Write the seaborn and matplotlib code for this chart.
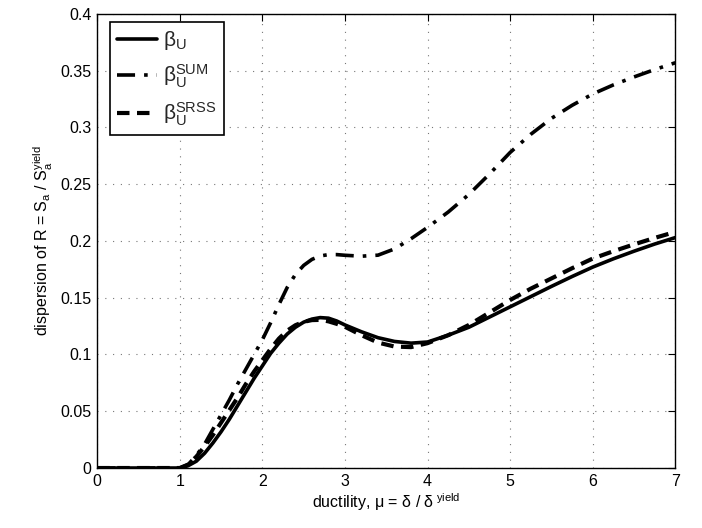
import matplotlib
matplotlib.use("Agg")
import matplotlib.pyplot as plt
import seaborn as sns
import pandas as pd

sns.set_theme(style="white")
plt.rcParams['font.family'] = ['Liberation Sans', 'DejaVu Sans']
plt.rcParams['mathtext.fontset'] = 'custom'
plt.rcParams['mathtext.rm'] = 'Liberation Sans'
plt.rcParams['mathtext.it'] = 'Liberation Sans'
plt.rcParams['mathtext.bf'] = 'Liberation Sans:bold'

mu = [0, 0.5, 1.0, 1.1, 1.2, 1.3, 1.4, 1.5, 1.6, 1.7, 1.8, 1.9, 2.0, 2.1, 2.2, 2.3,
      2.4, 2.5, 2.6, 2.7, 2.8, 2.9, 3.0, 3.2, 3.4, 3.6, 3.8, 4.0, 4.25, 4.5, 4.75,
      5.0, 5.25, 5.5, 5.75, 6.0, 6.25, 6.5, 6.75, 7.0]
beta_u = [0, 0, 0, 0.002, 0.006, 0.013, 0.022, 0.032, 0.043, 0.055, 0.067, 0.079,
          0.090, 0.101, 0.110, 0.118, 0.124, 0.1285, 0.1312, 0.1325, 0.132, 0.1295,
          0.126, 0.120, 0.1148, 0.1115, 0.110, 0.111, 0.117, 0.124, 0.133, 0.142,
          0.151, 0.160, 0.1687, 0.177, 0.1843, 0.191, 0.1973, 0.203]
beta_sum = [0, 0, 0, 0.003, 0.011, 0.021, 0.034, 0.047, 0.060, 0.074, 0.087, 0.100,
            0.113, 0.128, 0.144, 0.159, 0.1705, 0.1785, 0.1838, 0.1868, 0.188, 0.188,
            0.1874, 0.1866, 0.1875, 0.193, 0.202, 0.212, 0.2255, 0.241, 0.259,
            0.278, 0.294, 0.308, 0.3195, 0.3295, 0.3375, 0.3445, 0.351, 0.357]
beta_srss = [0, 0, 0, 0.003, 0.010, 0.019, 0.029, 0.040, 0.051, 0.062, 0.074, 0.085,
             0.095, 0.105, 0.114, 0.121, 0.1258, 0.1288, 0.1303, 0.1305, 0.1292, 0.127,
             0.1244, 0.117, 0.1105, 0.107, 0.1065, 0.110, 0.117, 0.126, 0.137,
             0.148, 0.158, 0.167, 0.176, 0.1845, 0.191, 0.197, 0.2027, 0.208]

labels = [r'$\mathregular{\beta_U}$', r'$\mathregular{\beta_U^{SUM}}$',
          r'$\mathregular{\beta_U^{SRSS}}$']

fig = plt.figure(figsize=(7.02, 5.28), dpi=100)
ax = fig.add_axes([0.1385, 0.1136, 0.8235, 0.86])

df = pd.DataFrame({'mu': mu, 'u': beta_u, 'sum': beta_sum, 'srss': beta_srss})
sns.lineplot(data=df, x='mu', y='u', ax=ax, color='black', lw=2.6,
             linestyle='-', label=labels[0])
sns.lineplot(data=df, x='mu', y='sum', ax=ax, color='black', lw=2.6,
             linestyle=(0, (5, 2.5, 1, 2.5)), label=labels[1])
sns.lineplot(data=df, x='mu', y='srss', ax=ax, color='black', lw=3,
             linestyle=(0, (3, 1.8)), label=labels[2])

ax.set_xlim(0, 7)
ax.set_ylim(0, 0.4)
ax.set_xticks(range(0, 8))
yt = [0, 0.05, 0.1, 0.15, 0.2, 0.25, 0.3, 0.35, 0.4]
ax.set_yticks(yt)
ax.set_yticklabels(['0', '0.05', '0.1', '0.15', '0.2', '0.25', '0.3', '0.35', '0.4'])
ax.tick_params(direction='in', top=True, right=True, length=5, width=0.8,
               labelsize=11.5, colors='black', pad=4)
ax.grid(True, linestyle=(0, (1, 6)), color='#777777', lw=0.8)
for s in ax.spines.values():
    s.set_color('black')
    s.set_linewidth(1.0)

ax.set_xlabel(r'ductility, $\mathregular{\mu}$ = $\mathregular{\delta}$ / $\mathregular{\delta^{\ yield}}$',
              fontsize=11.5, color='black', labelpad=2)
ax.set_ylabel(r'dispersion of R = $\mathregular{S_a}$ / $\mathregular{S_a^{yield}}$',
              fontsize=11.5, color='black', labelpad=4)

leg = ax.legend(loc='upper left', bbox_to_anchor=(0.022, 0.982), fontsize=15,
                frameon=True, fancybox=False, edgecolor='black', framealpha=1,
                handlelength=1.9, handletextpad=0.3, borderpad=0.35,
                labelspacing=0.5, borderaxespad=0)
leg.get_frame().set_linewidth(1.2)

fig.savefig('out.png', dpi=100)
